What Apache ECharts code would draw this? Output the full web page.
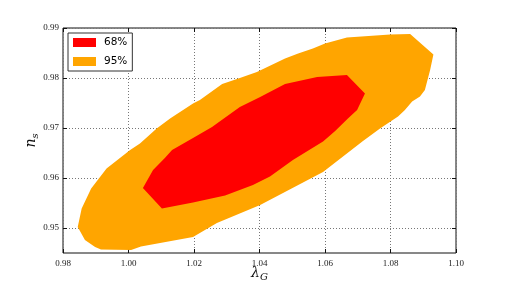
<!DOCTYPE html>
<html>
<head>
<meta charset="utf-8">
<script src="https://cdn.jsdelivr.net/npm/echarts@6/dist/echarts.min.js"></script>
<style>html,body{margin:0;padding:0;background:#fff;}#c{width:506px;height:281px;}</style>
</head>
<body>
<div id="c"></div>
<script>
// Tick values
var xTicks = [0.98, 1.00, 1.02, 1.04, 1.06, 1.08, 1.10];
var yTicks = [0.95, 0.96, 0.97, 0.98, 0.99];
var legendNames = ['68%', '95%'];

// 68% contour (lambda_G, n_s)
var contour68 = [
  [1.0044, 0.9580], [1.0075, 0.9616], [1.0111, 0.9640], [1.0133, 0.9656],
  [1.0197, 0.9680], [1.0255, 0.9702], [1.0340, 0.9742], [1.0402, 0.9762],
  [1.0478, 0.9788], [1.0576, 0.9802], [1.0667, 0.9806], [1.0722, 0.9769],
  [1.0698, 0.9736], [1.0670, 0.9719], [1.0631, 0.9694], [1.0594, 0.9673],
  [1.0502, 0.9636], [1.0432, 0.9603], [1.0380, 0.9586], [1.0295, 0.9565],
  [1.0197, 0.9551], [1.0102, 0.9539]
];

// 95% contour (lambda_G, n_s)
var contour95 = [
  [0.9845, 0.9502], [0.9867, 0.9476], [0.9898, 0.9462], [0.9916, 0.9457],
  [1.0008, 0.9456], [1.0038, 0.9463], [1.0197, 0.9482], [1.0270, 0.9510],
  [1.0402, 0.9546], [1.0594, 0.9612], [1.0716, 0.9674], [1.0768, 0.9699],
  [1.0823, 0.9723], [1.0844, 0.9736], [1.0866, 0.9753], [1.0890, 0.9763],
  [1.0905, 0.9776], [1.0921, 0.9816], [1.0931, 0.9847], [1.0860, 0.9888],
  [1.0799, 0.9887], [1.0667, 0.9881], [1.0600, 0.9869], [1.0563, 0.9859],
  [1.0518, 0.9849], [1.0478, 0.9839], [1.0392, 0.9812], [1.0340, 0.9800],
  [1.0286, 0.9788], [1.0218, 0.9756], [1.0197, 0.9749], [1.0127, 0.9719],
  [1.0086, 0.9699], [1.0035, 0.9669], [1.0005, 0.9656], [0.9933, 0.9619],
  [0.9886, 0.9579], [0.9857, 0.9539]
];

var RED = '#ff0000', ORANGE = '#ffa500';

function polyRender(points, color) {
  return function (params, api) {
    if (params.dataIndex !== 0) return null;
    return {
      type: 'polygon',
      shape: { points: points.map(function (p) { return api.coord(p); }) },
      style: { fill: color, stroke: null }
    };
  };
}

var chart = echarts.init(document.getElementById('c'), null, { renderer: 'canvas' });
var labelStyle = { fontFamily: 'Liberation Serif', fontSize: 9, color: '#222' };
var gridLine = { show: true, lineStyle: { color: '#777', width: 1, type: [1, 2] } };

chart.setOption({
  animation: false,
  backgroundColor: '#fff',
  grid: { left: 63, right: 50, top: 28, bottom: 28, containLabel: false, outerBoundsMode: 'none',
          show: true, borderColor: '#111', borderWidth: 1, backgroundColor: 'transparent' },
  legend: {
    orient: 'vertical', left: 68, top: 33,
    data: legendNames,
    icon: 'rect', itemWidth: 23, itemHeight: 9, itemGap: 8,
    padding: [4, 5, 4, 5],
    borderColor: '#333', borderWidth: 1, borderRadius: 0,
    backgroundColor: '#fff',
    textStyle: { fontFamily: 'DejaVu Sans', fontSize: 10.5, color: '#000', lineHeight: 9, padding: [0, 0, 0, 3] }
  },
  xAxis: [{
    type: 'value', min: 0.98, max: 1.10, interval: 0.02,
    axisLine: { show: false },
    axisTick: { show: true, inside: true, length: 4, lineStyle: { color: '#111' } },
    axisLabel: Object.assign({ margin: 6, formatter: function (v) { return v.toFixed(2); } }, labelStyle),
    splitLine: gridLine,
    name: '{a|λ}{b|G}', nameLocation: 'middle', nameGap: 11, nameMoveOverlap: false,
    nameTextStyle: { rich: {
      a: { fontFamily: 'DejaVu Serif', fontSize: 14, color: '#111', fontStyle: 'italic' },
      b: { fontFamily: 'DejaVu Serif', fontSize: 10, color: '#111', fontStyle: 'italic', padding: [8, 0, 0, 0] }
    } }
  }, {
    type: 'value', position: 'top', min: 0.98, max: 1.10, interval: 0.02,
    axisLine: { show: false }, axisLabel: { show: false }, splitLine: { show: false },
    axisTick: { show: true, inside: true, length: 4, lineStyle: { color: '#111' } }
  }],
  yAxis: [{
    type: 'value', min: 0.945, max: 0.99,
    axisLine: { show: false },
    axisTick: { show: true, inside: true, length: 4, customValues: yTicks, lineStyle: { color: '#111' } },
    axisLabel: Object.assign({ margin: 4, customValues: yTicks, formatter: function (v) { return v.toFixed(2); } }, labelStyle),
    splitLine: gridLine,
    name: '{a|n}{b|s}', nameLocation: 'middle', nameGap: 23, nameRotate: 90, nameMoveOverlap: false,
    nameTextStyle: { rich: {
      a: { fontFamily: 'DejaVu Serif', fontSize: 14, color: '#111', fontStyle: 'italic' },
      b: { fontFamily: 'DejaVu Serif', fontSize: 10, color: '#111', fontStyle: 'italic', padding: [8, 0, 0, 0] }
    } }
  }, {
    type: 'value', position: 'right', min: 0.945, max: 0.99,
    axisLine: { show: false }, axisLabel: { show: false, customValues: yTicks }, splitLine: { show: false },
    axisTick: { show: true, inside: true, length: 4, customValues: yTicks, lineStyle: { color: '#111' } }
  }],
  series: [{
    name: '95%', type: 'custom', coordinateSystem: 'cartesian2d',
    itemStyle: { color: ORANGE },
    renderItem: polyRender(contour95, ORANGE),
    data: contour95, z: 2
  }, {
    name: '68%', type: 'custom', coordinateSystem: 'cartesian2d',
    itemStyle: { color: RED },
    renderItem: polyRender(contour68, RED),
    data: contour68, z: 3
  }]
});
</script>
</body>
</html>
